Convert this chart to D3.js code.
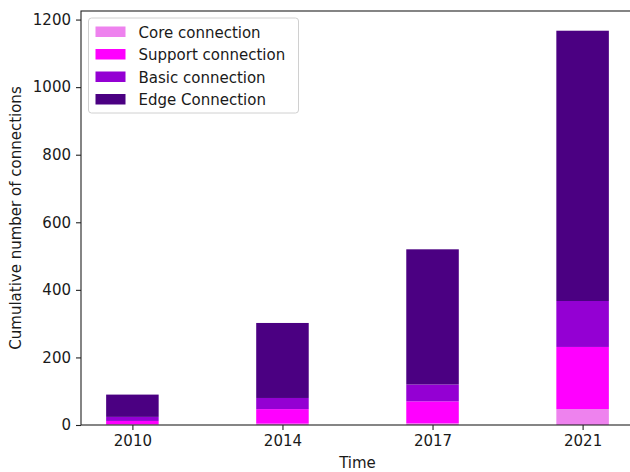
<!DOCTYPE html>
<html>
<head>
<meta charset="utf-8">
<script src="https://cdn.jsdelivr.net/npm/d3@7"></script>
<style>
  html, body { margin: 0; padding: 0; background: #fff; }
  svg { display: block; font-family: "DejaVu Sans", sans-serif; }
</style>
</head>
<body>
<svg id="chart" width="630" height="472"></svg>
<script>
// Survey years
const years = ["2010", "2014", "2017", "2021"];

// Connections added per class (stacked bottom to top)
const coreConnection    = [2, 4, 5, 47];
const supportConnection = [10, 43, 65, 184];
const basicConnection   = [12, 33, 50, 136];
const edgeConnection    = [66, 222, 400, 800];

const seriesNames  = ["Core connection", "Support connection", "Basic connection", "Edge Connection"];
const seriesColors = ["#ee82ee", "#ff00ff", "#9400d3", "#4b0082"];
const yTicks = [0, 200, 400, 600, 800, 1000, 1200];

const rows = years.map((y, i) => ({
  year: y, idx: i,
  "Core connection": coreConnection[i],
  "Support connection": supportConnection[i],
  "Basic connection": basicConnection[i],
  "Edge Connection": edgeConnection[i]
}));

const stacked = d3.stack().keys(seriesNames)(rows);
const totalMax = d3.max(rows, r => seriesNames.reduce((s, k) => s + r[k], 0));

const svg = d3.select("#chart");
const plotLeft = 81, plotRight = 634, plotTop = 11, plotBottom = 425;
const fs = 15;
const textColor = "#1a1a1a";

const barWidth = 0.35;
const pad = (years.length - 1 + barWidth) * 0.05;
const x = d3.scaleLinear()
  .domain([-barWidth / 2 - pad, years.length - 1 + barWidth / 2 + pad])
  .range([plotLeft, plotRight]);
const y = d3.scaleLinear()
  .domain([0, totalMax * 1.05])
  .range([plotBottom, plotTop]);

// stacked bars
svg.append("g").selectAll("g")
  .data(stacked)
  .join("g")
  .attr("fill", (d, i) => seriesColors[i])
  .selectAll("rect")
  .data(d => d)
  .join("rect")
  .attr("x", d => x(d.data.idx - barWidth / 2))
  .attr("width", d => x(d.data.idx + barWidth / 2) - x(d.data.idx - barWidth / 2))
  .attr("y", d => y(d[1]))
  .attr("height", d => y(d[0]) - y(d[1]));

// axes
const xAxis = d3.axisBottom(x)
  .tickValues(years.map((_, i) => i))
  .tickFormat(i => years[i])
  .tickSize(5).tickPadding(5);
const yAxis = d3.axisLeft(y)
  .tickValues(yTicks)
  .tickFormat(d3.format("d"))
  .tickSize(5).tickPadding(5);

const gx = svg.append("g").attr("transform", `translate(0,${plotBottom})`).call(xAxis);
const gy = svg.append("g").attr("transform", `translate(${plotLeft},0)`).call(yAxis);
[gx, gy].forEach(g => {
  g.select(".domain").remove();
  g.selectAll(".tick line").attr("stroke", "#222").attr("stroke-width", 1.1);
  g.selectAll(".tick text").attr("fill", textColor).style("font-size", fs + "px")
    .style("font-family", "DejaVu Sans, sans-serif");
});

// frame
svg.append("rect")
  .attr("x", plotLeft).attr("y", plotTop)
  .attr("width", plotRight - plotLeft).attr("height", plotBottom - plotTop)
  .attr("fill", "none").attr("stroke", "#222").attr("stroke-width", 1.1);

// axis titles
svg.append("text")
  .attr("x", (plotLeft + plotRight) / 2).attr("y", 468)
  .attr("text-anchor", "middle").style("font-size", fs + "px")
  .attr("fill", textColor)
  .text("Time");
svg.append("text")
  .attr("transform", `translate(21,${(plotTop + plotBottom) / 2}) rotate(-90)`)
  .attr("text-anchor", "middle").style("font-size", fs + "px")
  .attr("fill", textColor)
  .text("Cumulative number of connections");

// legend
const lg = svg.append("g").attr("transform", "translate(88.5,18)");
lg.append("rect")
  .attr("width", 210).attr("height", 95).attr("rx", 3)
  .attr("fill", "#fff").attr("fill-opacity", 0.8)
  .attr("stroke", "#d0d0d0").attr("stroke-width", 1);
const item = lg.selectAll("g.item")
  .data(seriesNames)
  .join("g").attr("class", "item")
  .attr("transform", (d, i) => `translate(7,${14 + i * 22.5})`);
item.append("rect")
  .attr("x", 0).attr("y", -5.5).attr("width", 30).attr("height", 10.5)
  .attr("fill", (d, i) => seriesColors[i]);
item.append("text")
  .attr("x", 43).attr("y", 5.5)
  .style("font-size", fs + "px")
  .attr("fill", textColor)
  .text(d => d);
</script>
</body>
</html>
